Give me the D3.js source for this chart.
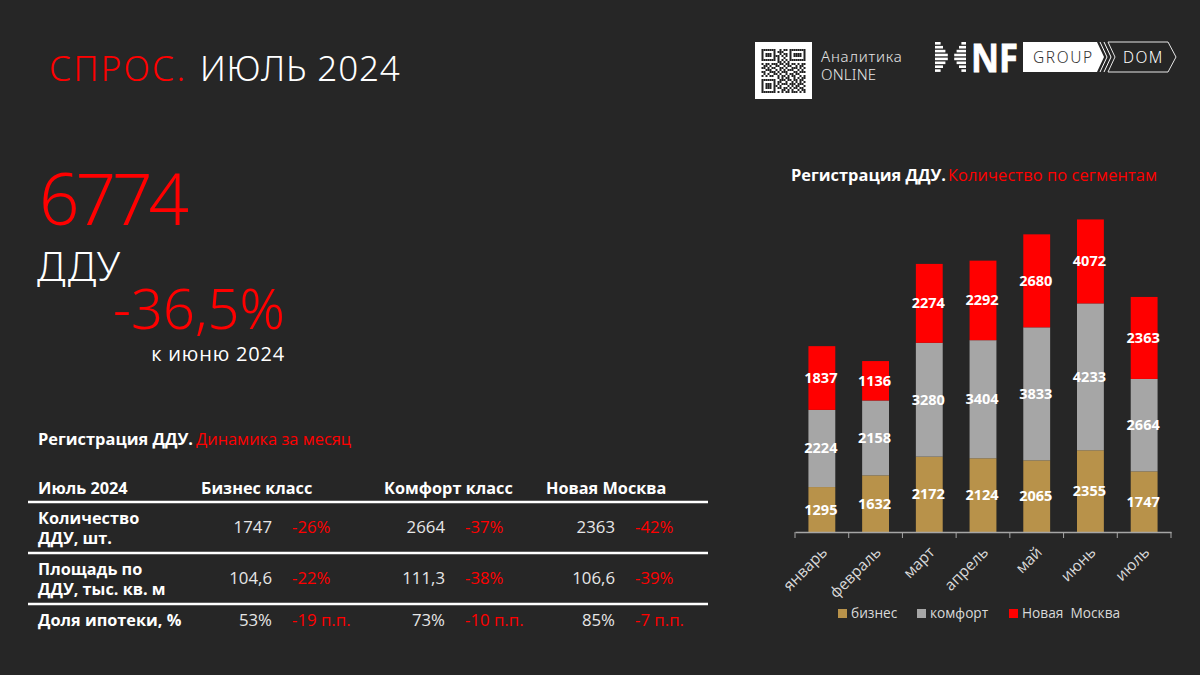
<!DOCTYPE html>
<html lang="ru">
<head>
<meta charset="utf-8">
<script src="https://cdn.jsdelivr.net/npm/d3@7"></script>
<style>
  html, body { margin: 0; padding: 0; background: #262626; }
  svg { display: block; }
  text { font-family: "Open Sans", "Noto Sans", sans-serif; }
  .thin { font-family: "Noto Sans", sans-serif; font-weight: 300; }
  .axis path, .axis line { stroke: #a6a6a6; }
  .axis text { fill: #d9d9d9; font-size: 15.5px; }
</style>
</head>
<body>
<div id="chart"></div>
<script>
// ---------------- Chart data ---------------- //
const months = ["январь", "февраль", "март", "апрель", "май", "июнь", "июль"];
const segments = ["бизнес", "комфорт", "Новая  Москва"];
const segmentColors = ["#b8924a", "#a6a6a6", "#ff0000"];

const business = [1295, 1632, 2172, 2124, 2065, 2355, 1747];
const comfort = [2224, 2158, 3280, 3404, 3833, 4233, 2664];
// June's red bar is drawn shorter than its label says, so heights and labels are kept apart
const newMoscowHeight = [1837, 1136, 2274, 2292, 2680, 2420, 2363];
const newMoscowLabel = [1837, 1136, 2274, 2292, 2680, 4072, 2363];

const tableHeader = ["Бизнес класс", "Комфорт класс", "Новая Москва"];
const tableRows = [
  ["Количество", "ДДУ, шт."],
  ["Площадь по", "ДДУ, тыс. кв. м"],
  ["Доля ипотеки, %"]
];
const tableValues = [
  ["1747", "2664", "2363"],
  ["104,6", "111,3", "106,6"],
  ["53%", "73%", "85%"]
];
const tableDeltas = [
  ["-26%", "-37%", "-42%"],
  ["-22%", "-38%", "-39%"],
  ["-19 п.п.", "-10 п.п.", "-7 п.п."]
];

const qrRows = [
  "1111111001011011111111",
  "1000001011100010000001",
  "1011101001011010111101",
  "1011101110101010111101",
  "1000001010010010000001",
  "1111111010101011111111",
  "0000000011010100000000",
  "1011011101101101101011",
  "0110100110010110010110",
  "1101011001101001110101",
  "0011100101010111001010",
  "1100111010111000110111",
  "0101001101001011011000",
  "1010110010110101100101",
  "0000000010101100101011",
  "1111111001110110110110",
  "1000001011001001010101",
  "1011101010111011101110",
  "1011101101000101011001",
  "1011101011011010110110",
  "1000001000110101001011",
  "1111111010101101110101"
];

// ---------------- Page ---------------- //
const svg = d3.select("#chart").append("svg")
  .attr("width", 1200)
  .attr("height", 675)
  .attr("viewBox", "0 0 1200 675");

drawHeader();
drawLogo();
drawSummary();
drawTable();
drawChart();

// ---------------- Function definitions ---------------- //

function addText(x, y, str, size, fill, opts = {}) {
  return svg.append("text")
    .attr("x", x)
    .attr("y", y)
    .attr("class", opts.thin ? "thin" : null)
    .attr("text-anchor", opts.anchor || "start")
    .attr("font-weight", opts.bold ? 700 : null)
    .attr("font-size", size)
    .attr("fill", fill)
    .text(str);
}

function drawHeader() {
  addText(49, 81, "СПРОС.", 35, "#ff0000", { thin: true }).attr("letter-spacing", 2.2);
  addText(200, 81, "ИЮЛЬ 2024", 35, "#ffffff", { thin: true }).attr("letter-spacing", 0.8);
}

/*
 * QR block and the MNF GROUP / DOM logo on the top right.
 */
function drawLogo() {
  const g = svg.append("g");
  g.append("rect").attr("x", 755).attr("y", 42).attr("width", 57).attr("height", 57).attr("fill", "#fff");

  const cell = 2;
  qrRows.forEach((row, r) => {
    row.split("").forEach((c, i) => {
      if (c === "1") {
        g.append("rect")
          .attr("x", 761.5 + i * cell).attr("y", 49 + r * cell)
          .attr("width", cell).attr("height", cell)
          .attr("fill", "#222");
      }
    });
  });

  addText(821, 62, "Аналитика", 15, "#e6e6e6", { thin: true }).attr("letter-spacing", 0.8);
  addText(821, 80, "ONLINE", 15, "#e6e6e6", { thin: true }).attr("letter-spacing", 0.2);

  // Striped M: two wedges that nearly meet in the middle
  d3.range(8).forEach(i => {
    const y = 42 + i * 3.9;
    const gap = 2 + Math.abs(i - 3.5) * 2.4;
    g.append("rect").attr("x", 935).attr("y", y).attr("width", 16 - gap).attr("height", 2.6).attr("fill", "#fff");
    g.append("rect").attr("x", 951 + gap).attr("y", y).attr("width", 15 - gap).attr("height", 2.6).attr("fill", "#fff");
  });
  addText(971, 72, "NF", 40, "#ffffff", { bold: true })
    .attr("textLength", 47).attr("lengthAdjust", "spacingAndGlyphs")
    .attr("stroke", "#ffffff").attr("stroke-width", 0.8);

  g.append("path").attr("d", "M1023,42H1097L1104,57L1097,72H1023Z").attr("fill", "#fff");
  g.append("path").attr("d", "M1108,42H1168L1176,57L1168,72H1108L1115,57Z")
    .attr("fill", "none").attr("stroke", "#e6e6e6").attr("stroke-width", 1);
  [1100, 1104].forEach(x => {
    g.append("path").attr("d", `M${x},42L${x + 7},57L${x},72`)
      .attr("fill", "none").attr("stroke", "#fff").attr("stroke-width", 1);
  });
  addText(1033, 63, "GROUP", 15.5, "#333333", { thin: true }).attr("letter-spacing", 1.6);
  addText(1123, 63, "DOM", 15.5, "#ffffff", { thin: true }).attr("letter-spacing", 1.4);
}

function drawSummary() {
  addText(39, 225, "6774", 71, "#ff0000", { thin: true }).attr("letter-spacing", -4);
  addText(37, 281, "ДДУ", 40, "#ffffff", { thin: true }).attr("letter-spacing", 0.6);
  addText(285, 329, "-36,5%", 56, "#ff0000", { thin: true, anchor: "end" });
  addText(285, 361, "к июню 2024", 20, "#ffffff", { anchor: "end" }).attr("letter-spacing", 0.8);
}

/*
 * Monthly dynamics table at the bottom left.
 */
function drawTable() {
  addText(38, 445, "Регистрация ДДУ.", 16.4, "#ffffff", { bold: true });
  addText(196, 445, "Динамика за месяц", 16.4, "#ff0000");

  addText(38, 494, "Июль 2024", 16.3, "#ffffff", { bold: true });
  const headerX = [201, 384, 546];
  tableHeader.forEach((d, i) => addText(headerX[i], 494, d, 16.3, "#ffffff", { bold: true }));

  [502, 553, 604].forEach(y => {
    svg.append("line")
      .attr("x1", 28).attr("x2", 708).attr("y1", y).attr("y2", y)
      .attr("stroke", "#ffffff").attr("stroke-width", 2.5);
  });

  const rowMid = [527, 578, 620];
  const valueX = [272, 445, 615];
  const deltaX = [292, 465, 635];
  tableRows.forEach((lines, r) => {
    lines.forEach((line, l) => {
      const y = rowMid[r] + 6 + (lines.length === 2 ? (l === 0 ? -9.5 : 11) : 0);
      addText(38, y, line, 16.3, "#ffffff", { bold: true });
    });
    valueX.forEach((x, c) => {
      addText(x, rowMid[r] + 6, tableValues[r][c], 16.8, "#e6e6e6", { anchor: "end" });
      addText(deltaX[c], rowMid[r] + 6, tableDeltas[r][c], 16.8, "#ff0000");
    });
  });
}

/*
 * Stacked bar chart of registrations by segment.
 */
function drawChart() {
  addText(791, 181, "Регистрация ДДУ.", 16.4, "#ffffff", { bold: true });
  addText(948, 181, "Количество по сегментам", 16.4, "#ff0000").attr("letter-spacing", 0.1);

  const rows = months.map((m, i) => ({
    month: m,
    0: business[i],
    1: comfort[i],
    2: newMoscowHeight[i]
  }));
  const series = d3.stack().keys([0, 1, 2])(rows);

  const x = d3.scaleBand().domain(months).range([795, 1171]).paddingInner(0.5).paddingOuter(0.25);
  const y = d3.scaleLinear().domain([0, 9000]).range([532, 532 - 9000 * 0.0347]);
  const step = x.step();
  const labels = [business, comfort, newMoscowLabel];

  const groups = svg.selectAll("g.seg")
    .data(series)
    .enter()
    .append("g")
    .attr("class", "seg");

  groups.selectAll("rect")
    .data(d => d)
    .enter()
    .append("rect")
    .attr("x", d => x(d.data.month))
    .attr("width", x.bandwidth())
    .attr("y", d => y(d[1]))
    .attr("height", d => y(d[0]) - y(d[1]))
    .attr("fill", (d, i, n) => segmentColors[n[i].parentNode.__data__.index]);

  groups.selectAll("text")
    .data((d, s) => d.map((v, i) => ({ v, label: labels[s][i] })))
    .enter()
    .append("text")
    .attr("x", d => x(d.v.data.month) + x.bandwidth() / 2 - 1)
    .attr("y", d => (y(d.v[0]) + y(d.v[1])) / 2 + 5)
    .attr("text-anchor", "middle")
    .attr("font-size", 14.5)
    .attr("font-weight", 700)
    .attr("fill", "#ffffff")
    .text(d => d.label);

  const axis = svg.append("g")
    .attr("class", "axis")
    .attr("transform", "translate(0,532)")
    .call(d3.axisBottom(x).tickSize(0).tickPadding(14));
  axis.select(".domain").attr("stroke-width", 1.5);
  axis.selectAll("text")
    .attr("text-anchor", "end")
    .attr("transform", "translate(-12,0) rotate(-45)")
    .attr("dx", "-2")
    .attr("dy", "0.9em");

  // Tick marks sit between the categories, not on them
  axis.selectAll("line.between")
    .data(d3.range(months.length + 1))
    .enter()
    .append("line")
    .attr("class", "between")
    .attr("x1", i => x.range()[0] + i * step)
    .attr("x2", i => x.range()[0] + i * step)
    .attr("y1", 0)
    .attr("y2", 6);

  // Legend
  const legendX = [838, 917, 1009];
  segments.forEach((s, i) => {
    svg.append("rect")
      .attr("x", legendX[i]).attr("y", 609)
      .attr("width", 9).attr("height", 9)
      .attr("fill", segmentColors[i]);
    addText(legendX[i] + 13, 618, s, 13.7, "#d9d9d9").style("white-space", "pre");
  });
}
</script>
</body>
</html>
